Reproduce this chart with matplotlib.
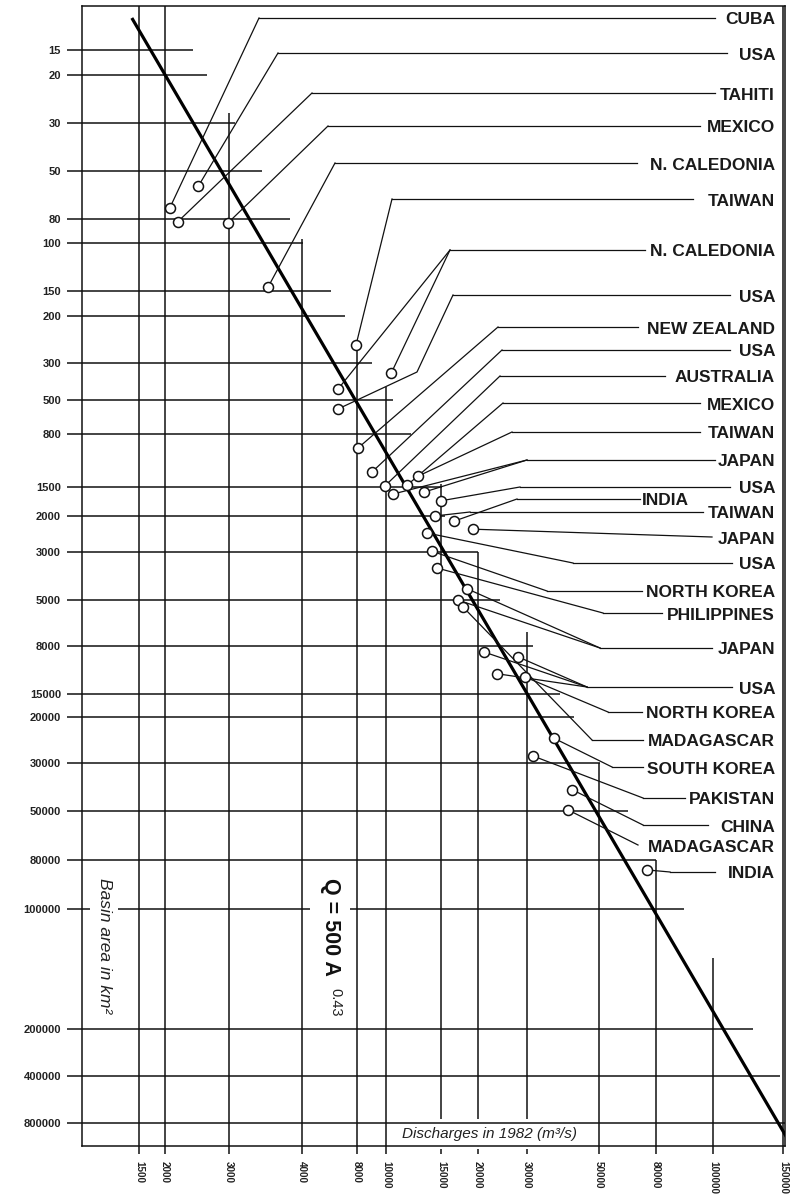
import numpy as np
import matplotlib
matplotlib.use("Agg")
import matplotlib.pyplot as plt
from matplotlib.lines import Line2D

plt.rcParams['font.family'] = ['Liberation Sans', 'DejaVu Sans']

# axis graduations: basin area (km2) downwards, discharge (m3/s) across
area_ticks = [15, 20, 30, 50, 80, 100, 150, 200, 300, 500, 800, 1500, 2000, 3000,
              5000, 8000, 15000, 20000, 30000, 50000, 80000, 100000, 200000,
              400000, 800000]
discharge_ticks = [1500, 2000, 3000, 4000, 8000, 10000, 15000, 20000, 30000,
                   50000, 80000, 100000, 150000]

# rivers: discharge, basin area and the country label each one points to
point_q = [2060, 2470, 2170, 2980, 3500, 7900, 6300, 10400, 6300, 8060,
           8980, 9920, 11700, 12700, 10500, 13200, 15000, 16600, 14300, 19200,
           13500, 14000, 14600, 18400, 17100, 21000, 27900, 23400, 29500, 17800,
           36300, 31300, 41400, 40000, 74300]
point_a = [72, 58, 82, 83, 145, 257, 430, 344, 566, 945,
           1255, 1480, 1465, 1316, 1610, 1580, 1720, 2120, 2000, 2320,
           2420, 2970, 3560, 4440, 5000, 8650, 9230, 11500, 12000, 5370,
           24100, 28200, 39900, 49300, 83700]
point_label = [0, 1, 2, 3, 4, 5, 6, 6, 7, 8,
               9, 10, 11, 12, 13, 13, 14, 15, 16, 17,
               18, 19, 20, 21, 21, 22, 22, 22, 23, 24,
               25, 26, 27, 28, 29]

countries = ["CUBA", "USA", "TAHITI", "MEXICO", "N. CALEDONIA", "TAIWAN",
             "N. CALEDONIA", "USA", "NEW ZEALAND", "USA", "AUSTRALIA", "MEXICO",
             "TAIWAN", "JAPAN", "USA", "INDIA", "TAIWAN", "JAPAN", "USA",
             "NORTH KOREA", "PHILIPPINES", "JAPAN", "USA", "NORTH KOREA",
             "MADAGASCAR", "SOUTH KOREA", "PAKISTAN", "CHINA", "MADAGASCAR",
             "INDIA"]

# regression Q = 500 A^0.43, pinned at two basin areas
coef, expo = 500, 0.43
fit_areas = [1500, 8000]

# ---- layout (figure pixels, measured from the top-left corner) ----
W, H = 792, 1197
area_px = [50, 75, 123, 171, 219, 243, 291, 316, 363, 400, 434, 487, 516, 552,
           600, 646, 694, 717, 763, 811, 860, 909, 1029, 1076, 1123]
discharge_px = [139, 165, 229, 302, 357, 386, 441, 478, 527, 599, 656, 713, 783]
frame = dict(left=82, right=785, top=6, bottom=1146)
line_top_px = 18

# how far each grid line is drawn
hline_end_px = [193, 207, 235, 262, 290, 303, 331, 345, 372, 393, 411, 442, 445,
                478, 500, 533, 560, 574, 600, 628, 656, 684, 753, 780, 785]
vline_top_px = [6, 6, 113, 239, 350, 387, 484, 552, 632, 763, 860, 958, 6]

# leader lines: label row, elbow and end of the horizontal run
label_y_px = [18, 53, 93, 126, 163, 199, 250, 295, 327, 350, 376, 403, 432, 460,
              487, 499, 512, 537, 563, 591, 613, 648, 687, 712, 740, 767, 798,
              825, 845, 872]
elbow_x_px = [259, 278, 312, 328, 335, 392, 450, 453, 498, 502, 500, 503, 512,
              527, 520, 517, 470, None, 573, 547, 603, 600, 587, 608, 592, 612,
              643, 643, None, 670]
leader_end_px = [715, 727, 715, 700, 637, 693, 645, 730, 638, 730, 665, 700, 700,
                 715, 730, 640, 703, 712, 732, 642, 662, 712, 732, 642, 643, 643,
                 685, 708, 638, 715]
kinks = {7: (417, 372)}
label_right_px = 775
ink = '#111111'


def fx(x):
    return x / W


def fy(y):
    return 1 - y / H


def log_ruler(values, pixels):
    """Piecewise log scale through hand-placed graduations."""
    lv = np.log10(np.asarray(values, float))
    px = np.asarray(pixels, float)
    s0 = (px[1] - px[0]) / (lv[1] - lv[0])
    s1 = (px[-1] - px[-2]) / (lv[-1] - lv[-2])
    lv = np.r_[lv[0] - 20, lv, lv[-1] + 20]
    px = np.r_[px[0] - 20 * s0, px, px[-1] + 20 * s1]

    def forward(v):
        v = np.clip(np.asarray(v, float), 1e-12, None)
        return np.interp(np.log10(v), lv, px)

    def inverse(p):
        return 10 ** np.interp(np.asarray(p, float), px, lv)

    return forward, inverse


x_fwd, x_inv = log_ruler(discharge_ticks, discharge_px)
y_fwd, y_inv = log_ruler(area_ticks, area_px)

fig = plt.figure(figsize=(W / 100, H / 100), dpi=100)
ax = fig.add_axes([fx(frame['left']), fy(frame['bottom']),
                   (frame['right'] - frame['left']) / W,
                   (frame['bottom'] - frame['top']) / H])
ax.set_xscale('function', functions=(x_fwd, x_inv))
ax.set_yscale('function', functions=(y_fwd, y_inv))
q_min, q_max = float(x_inv(frame['left'])), float(x_inv(frame['right']))
a_top, a_bot = float(y_inv(frame['top'])), float(y_inv(frame['bottom']))
ax.set_xlim(q_min, q_max)
ax.set_ylim(a_bot, a_top)

for s in ax.spines.values():
    s.set_linewidth(1.1)
    s.set_color(ink)

ax.set_yticks(area_ticks, labels=[str(v) for v in area_ticks])
ax.set_xticks(discharge_ticks, labels=[str(v) for v in discharge_ticks])
ax.minorticks_off()
ax.tick_params(axis='y', direction='out', length=10.8, width=1.1, pad=4.3,
               labelsize=8, color=ink, labelcolor='#222222')
ax.tick_params(axis='x', direction='out', length=6, width=1.1, pad=4.5,
               labelsize=7.1, color=ink, labelcolor='#222222', labelrotation=-90)
for lbl in ax.get_xticklabels() + ax.get_yticklabels():
    lbl.set_fontweight('bold')

# staggered grid
for a, end in zip(area_ticks, hline_end_px):
    ax.hlines(a, q_min, float(x_inv(end)), color=ink, lw=1.1, zorder=2.1)
for q, top in zip(discharge_ticks, vline_top_px):
    ax.vlines(q, float(y_inv(top)), a_bot, color=ink, lw=1.1, zorder=1)

# regression line: straight through two points of Q = 500 A^0.43,
# carried on to the edges of the grid
fit_a = np.asarray(fit_areas, float)
fit_q = coef * fit_a ** expo
d = ax.transData.transform(np.column_stack([fit_q, fit_a]))
run = (d[1, 0] - d[0, 0]) / (d[1, 1] - d[0, 1])
ys = np.array([H - line_top_px, H - frame['bottom']], float)
xs = d[0, 0] + (ys - d[0, 1]) * run
ends = ax.transData.inverted().transform(np.column_stack([xs, ys]))
ax.plot(ends[:, 0], ends[:, 1], color='black', lw=2.3, zorder=3,
        solid_capstyle='butt')

# leaders from each river to its country label
pts = fig.transFigure.inverted().transform(
    ax.transData.transform(np.column_stack([point_q, point_a])))
for i, name in enumerate(countries):
    y = fy(label_y_px[i])
    end = fx(leader_end_px[i])
    if elbow_x_px[i] is not None:
        anchor = (fx(elbow_x_px[i]), y)
        ax.add_line(Line2D([anchor[0], end], [y, y], transform=fig.transFigure,
                           color=ink, lw=0.9, zorder=4, clip_on=False))
    else:
        anchor = (end, y)
    for j in [k for k, lab in enumerate(point_label) if lab == i]:
        path = [tuple(pts[j])]
        if i in kinks:
            kx, ky = kinks[i]
            path.append((fx(kx), fy(ky)))
        path.append(anchor)
        px_, py_ = zip(*path)
        ax.add_line(Line2D(px_, py_, transform=fig.transFigure, color=ink,
                           lw=0.9, zorder=4, clip_on=False))
    if i == 15:
        fig.text(fx(leader_end_px[i] + 2), fy(label_y_px[i] + 6.5), name,
                 ha='left', va='baseline', fontsize=12.5, fontweight='bold',
                 color='#1a1a1a')
    else:
        fig.text(fx(label_right_px), fy(label_y_px[i] + 6.5), name,
                 ha='right', va='baseline', fontsize=12.5, fontweight='bold',
                 color='#1a1a1a')

ax.plot(point_q, point_a, 'o', ms=7.2, mfc='white', mec=ink, mew=1.1,
        zorder=6, clip_on=False)

# axis titles and the equation, written along the grid
ax.text(fx(104), fy(946), "Basin area in km\u00b2", transform=fig.transFigure,
        rotation=-90, ha='center', va='center', fontsize=12.5, style='italic',
        color='#222222', zorder=2.2,
        bbox=dict(boxstyle='square,pad=0.35', fc='white', ec='none'))
ax.text(fx(330), fy(927), "Q = 500 A", transform=fig.transFigure,
        rotation=-90, ha='center', va='center', fontsize=15.5,
        fontweight='bold', color='#111111', zorder=2.2,
        bbox=dict(boxstyle='square,pad=0.45', fc='white', ec='none'))
ax.text(fx(335), fy(1002), "0.43", transform=fig.transFigure,
        rotation=-90, ha='center', va='center', fontsize=10.5,
        color='#222222', zorder=2.2)
ax.text(fx(402), fy(1134), "Discharges in 1982 (m\u00b3/s)",
        transform=fig.transFigure, ha='left', va='center', fontsize=11,
        style='italic', color='#222222', zorder=2,
        bbox=dict(boxstyle='square,pad=0.5', fc='white', ec='none'))

fig.savefig('out.png', dpi=100)
